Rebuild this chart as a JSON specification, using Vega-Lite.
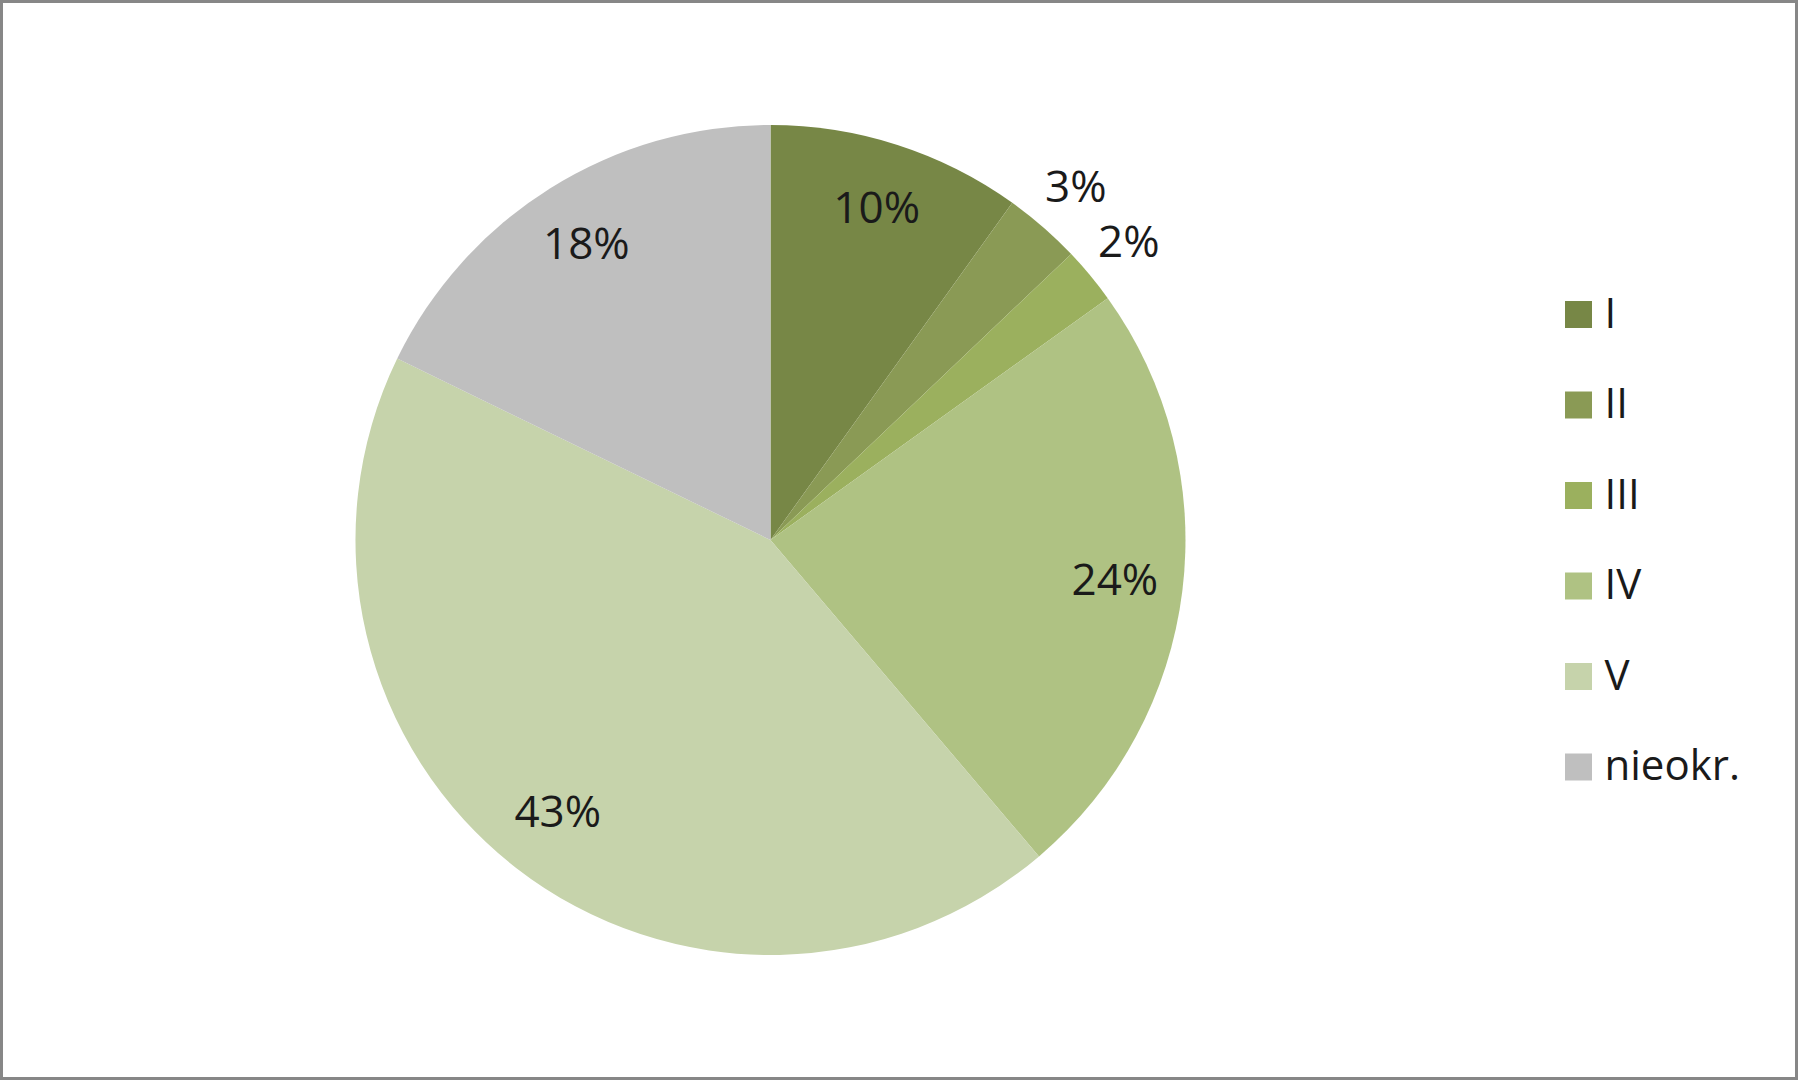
{
  "$schema": "https://vega.github.io/schema/vega-lite/v6.json",
  "width": 1795,
  "height": 1077,
  "autosize": {"type": "none"},
  "padding": {"left": 1.5, "top": 1.5, "right": 1.5, "bottom": 1.5},
  "background": "#ffffff",
  "view": {"stroke": "#878787", "strokeWidth": 3},
  "config": {
    "view": {"stroke": "#878787", "strokeWidth": 3},
    "font": "Open Sans"
  },
  "data": {
    "values": [
      {"klasa": "I", "rank": 1, "share": 0.099},
      {"klasa": "II", "rank": 2, "share": 0.030},
      {"klasa": "III", "rank": 3, "share": 0.022},
      {"klasa": "IV", "rank": 4, "share": 0.237},
      {"klasa": "V", "rank": 5, "share": 0.434},
      {"klasa": "nieokr.", "rank": 6, "share": 0.178}
    ]
  },
  "transform": [
    {"stack": "share", "groupby": [], "sort": [{"field": "rank", "order": "ascending"}], "as": ["t0", "t1"]},
    {"calculate": "(datum.t0 + datum.t1) / 2", "as": "tmid"}
  ],
  "layer": [
    {
      "mark": {"type": "arc", "radius": 415, "x": {"expr": "width * 0.4284"}, "stroke": null},
      "encoding": {
        "theta": {"field": "t0", "type": "quantitative", "scale": {"domain": [0, 1]}},
        "theta2": {"field": "t1"},
        "color": {
          "field": "klasa",
          "type": "nominal",
          "scale": {
            "domain": ["I", "II", "III", "IV", "V", "nieokr."],
            "range": ["#778746", "#8a9a55", "#9bb05e", "#afc283", "#c6d3ab", "#bfbfbf"]
          },
          "legend": {
            "title": null,
            "orient": "none",
            "legendX": 1556,
            "legendY": 292,
            "symbolType": "square",
            "symbolSize": 729,
            "symbolStrokeWidth": 0,
            "labelFontSize": 42,
            "labelFont": "Open Sans",
            "labelColor": "#1a1a1a",
            "labelOffset": 5,
            "rowPadding": 48.5,
            "labelLimit": 400
          }
        }
      }
    },
    {
      "transform": [{"filter": "datum.share >= 0.05"}],
      "mark": {"type": "text", "radius": 347, "x": {"expr": "width * 0.4284"}, "fontSize": 44, "font": "Open Sans", "color": "#1a1a1a"},
      "encoding": {
        "theta": {"field": "tmid", "type": "quantitative"},
        "text": {"field": "share", "type": "quantitative", "format": ".0%"}
      }
    },
    {
      "transform": [{"filter": "datum.share < 0.05"}],
      "mark": {"type": "text", "radius": 465, "x": {"expr": "width * 0.4284"}, "fontSize": 44, "font": "Open Sans", "color": "#1a1a1a"},
      "encoding": {
        "theta": {"field": "tmid", "type": "quantitative"},
        "text": {"field": "share", "type": "quantitative", "format": ".0%"}
      }
    }
  ]
}
